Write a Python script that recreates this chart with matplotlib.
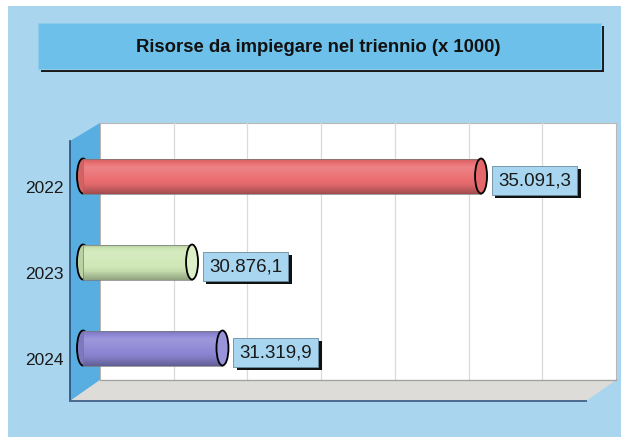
import numpy as np
import matplotlib
matplotlib.use("Agg")
import matplotlib.pyplot as plt
import matplotlib.patheffects as pe
from matplotlib.patches import Rectangle, Polygon, Ellipse
from matplotlib.colors import to_rgb
from matplotlib.transforms import offset_copy

plt.rcParams['font.family'] = ['Liberation Sans', 'DejaVu Sans']

# --- DATA ---
title = "Risorse da impiegare nel triennio (x 1000)"
years = ['2022', '2023', '2024']
values = [35091.3, 30876.1, 31319.9]
bar_colors = ['#ea6d70', '#cfe8b6', '#8c86d4']
cap_colors = ['#e4676a', '#dcefc6', '#9993da']

W, H = 621, 439
fig = plt.figure(figsize=(W / 100, H / 100), dpi=100)
fig.patch.set_facecolor('white')

# --- DECORATION LAYER (pixel coords) ---
bg = fig.add_axes([0, 0, 1, 1])
bg.set_xlim(0, W)
bg.set_ylim(H, 0)
bg.axis('off')

bg.add_patch(Rectangle((8, 7), W - 8, 431, facecolor='#a9d6ee', edgecolor='none'))

# title box with shadow
bg.add_patch(Rectangle((41, 27), 563, 46, facecolor='#1a1a1a', edgecolor='none'))
bg.add_patch(Rectangle((38, 24), 563, 46, facecolor='#6cc0ea', edgecolor='#8ccbe9', lw=0.8))
bg.text(318, 47, title, ha='center', va='center', fontsize=13.3, fontweight='bold', color='#111111')

# back wall
bg.add_patch(Rectangle((100, 124), 516, 257, facecolor='white', edgecolor='#b8b8b8', lw=0.8))
for gx in np.linspace(100, 616, 8)[1:-1]:
    bg.plot([gx, gx], [124, 381], color='#dadada', lw=0.9)
# left wall
bg.add_patch(Polygon([[70, 142], [100, 124], [100, 381], [70, 402]], closed=True,
                     facecolor='#58aee0', edgecolor='none'))
# floor
bg.add_patch(Polygon([[70, 402], [100, 381], [616, 381], [586, 402]], closed=True,
                     facecolor='#dedcd8', edgecolor='none'))
bg.plot([100, 616], [381, 381], color='#a0a0a0', lw=0.9)
bg.plot([70, 70], [142, 402], color='#2a4f78', lw=1.2)
bg.plot([70, 586], [402, 402], color='#4a6a90', lw=1.4)

# --- DATA LAYER (front plane) ---
ax = fig.add_axes([70 / W, (H - 402) / H, 516 / W, 260 / H])
ax.patch.set_alpha(0)
ax.axis('off')

units_per_px = 14.585
x_left = 29096
x_right = x_left + 516 * units_per_px
base = x_left + 13 * units_per_px
bar_h = 0.407
cap_w = 12 * units_per_px
ypos = np.arange(len(years))


def shade(c, f):
    r = np.array(to_rgb(c))
    if f >= 1:
        return r + (1 - r) * (f - 1)
    return r * f


for i, (yr, v) in enumerate(zip(years, values)):
    y = ypos[i]
    col = bar_colors[i]
    # left cap
    ax.add_patch(Ellipse((base, y), cap_w, bar_h, facecolor=shade(col, 0.9),
                         edgecolor='black', lw=1.3, zorder=2))
    # body with vertical gradient
    body = Rectangle((base, y - bar_h / 2), v - base, bar_h, facecolor='none',
                     edgecolor='#777777', lw=0.5, zorder=4)
    ax.add_patch(body)
    stops = [0.85, 1.15, 1.05, 0.95, 0.7]
    t = np.linspace(0, 1, 60)
    grad = np.interp(t, np.linspace(0, 1, len(stops)), stops)
    img = np.array([[np.clip(shade(col, g), 0, 1)] for g in grad])
    im = ax.imshow(img, extent=(base, v, y + bar_h / 2, y - bar_h / 2),
                   aspect='auto', zorder=3, interpolation='bilinear')
    im.set_clip_path(body)
    # right cap
    ax.add_patch(Ellipse((v, y), cap_w, bar_h, facecolor=cap_colors[i],
                         edgecolor='black', lw=1.3, zorder=5))

    # value label with drop shadow
    lbl = f"{v:,.1f}".replace(',', 'X').replace('.', ',').replace('X', '.')
    tx = v + 17 * units_per_px
    ty = y + 0.05
    t_lbl = ax.text(tx, ty, lbl, ha='left', va='center', fontsize=13.5, color='#1a1a1a', zorder=7,
                    bbox=dict(boxstyle='square,pad=0.33', facecolor='#a8d6f0',
                              edgecolor='#6a8aa0', lw=0.6))
    t_lbl.get_bbox_patch().set_path_effects([
        pe.SimplePatchShadow(offset=(2.5, -2.5), shadow_rgbFace='#111111', alpha=1.0),
        pe.Normal()])

    # year label
    ytr = offset_copy(ax.get_yaxis_transform(), fig=fig, x=-6, y=-11, units='dots')
    ax.text(0, y, yr, transform=ytr, ha='right', va='center', fontsize=12.5, color='#1a1a1a')

ax.set_xlim(x_left, x_right)
ax.set_ylim(2.616, -0.407)

fig.savefig('out.png', dpi=100)
